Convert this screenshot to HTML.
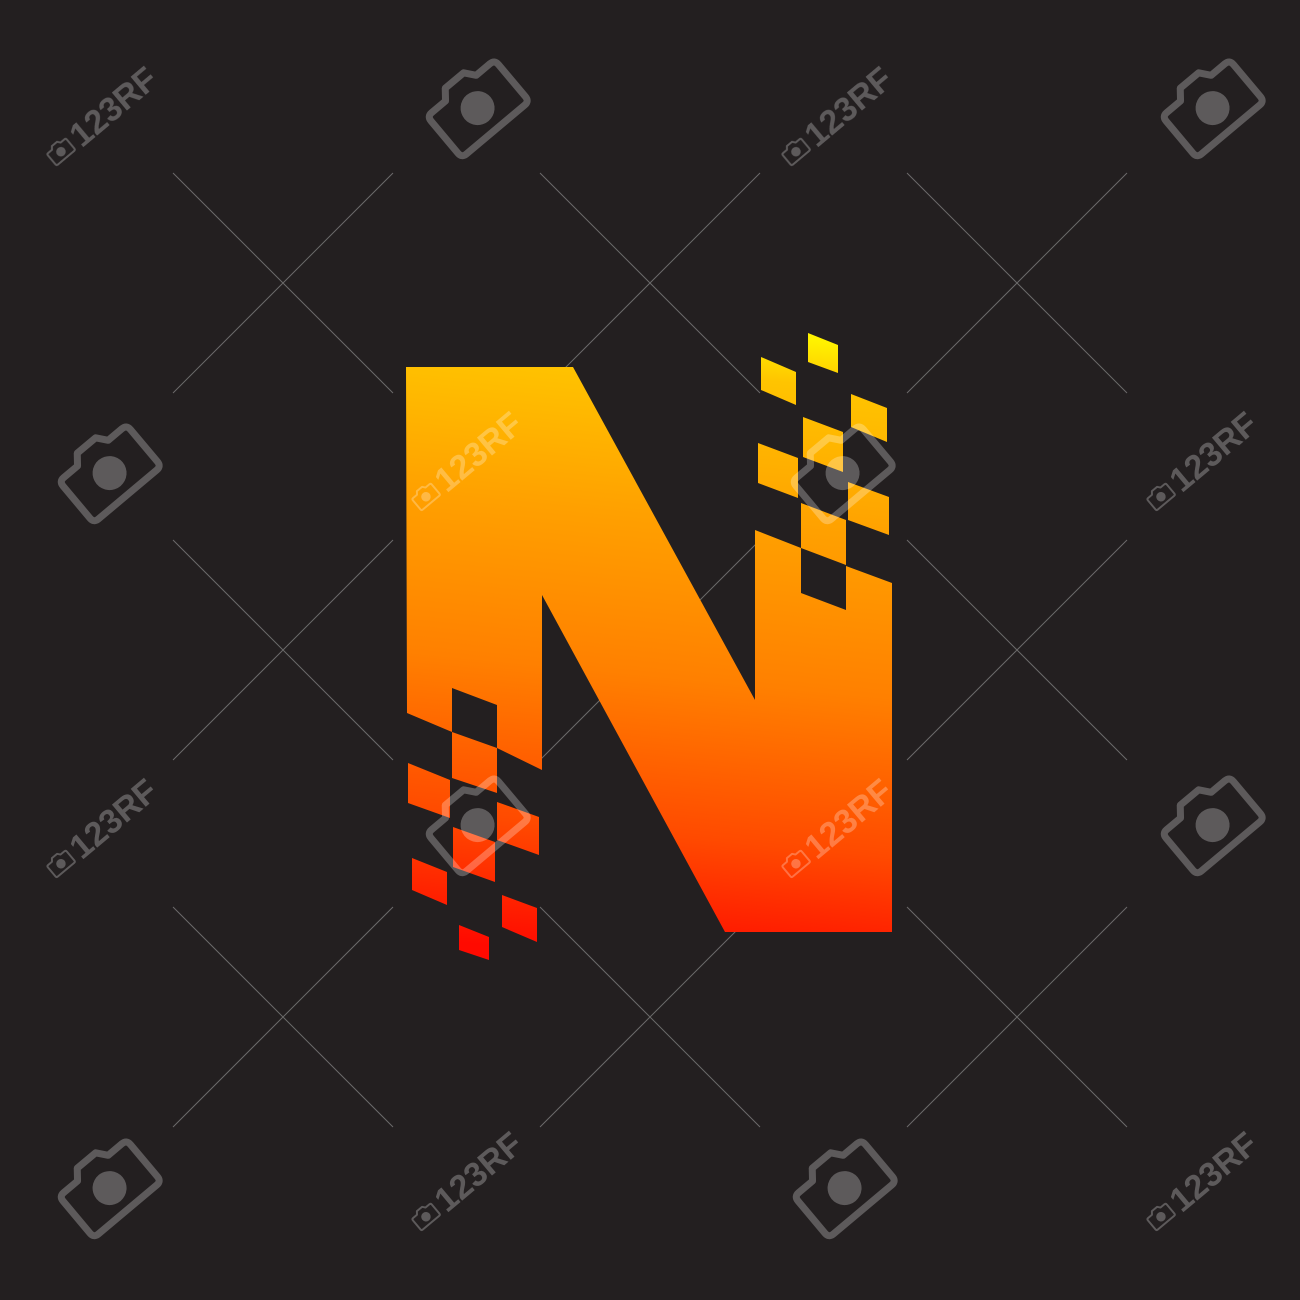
<!DOCTYPE html>
<html><head><meta charset="utf-8"><style>
html,body{margin:0;padding:0;background:#231f20;}
svg{display:block;}
</style></head><body>
<svg width="1300" height="1300" viewBox="0 0 1300 1300">
<defs>
<linearGradient id="g" gradientUnits="userSpaceOnUse" x1="700" y1="330" x2="640" y2="960">
<stop offset="0" stop-color="#fff200"/>
<stop offset="0.07" stop-color="#ffc400"/>
<stop offset="0.3" stop-color="#ffa000"/>
<stop offset="0.55" stop-color="#ff8000"/>
<stop offset="0.8" stop-color="#ff4a00"/>
<stop offset="1" stop-color="#ff0a00"/>
</linearGradient>
<symbol id="cam" viewBox="-50 -50 100 100">
<path d="M-38,-22 L-20,-22 L-12,-32 L12,-32 L20,-22 L38,-22 Q44,-22 44,-16 L44,26 Q44,32 38,32 L-38,32 Q-44,32 -44,26 L-44,-16 Q-44,-22 -38,-22 Z" fill="none" stroke="#fff" stroke-width="7" stroke-linejoin="round"/>
<circle cx="0" cy="4" r="17" fill="#fff"/>
</symbol>
</defs>
<rect width="1300" height="1300" fill="#231f20"/>
<g stroke="#8a8a8a" stroke-width="1" opacity="0.7">
<path d="M173,173 L393,393 M393,173 L173,393"/>
<path d="M540,173 L760,393 M760,173 L540,393"/>
<path d="M907,173 L1127,393 M1127,173 L907,393"/>
<path d="M173,540 L393,760 M393,540 L173,760"/>
<path d="M540,540 L760,760 M760,540 L540,760"/>
<path d="M907,540 L1127,760 M1127,540 L907,760"/>
<path d="M173,907 L393,1127 M393,907 L173,1127"/>
<path d="M540,907 L760,1127 M760,907 L540,1127"/>
<path d="M907,907 L1127,1127 M1127,907 L907,1127"/>
</g>
<g>
<path fill="url(#g)" d="M406,367 L573,367 L755,700 L755,530 L801,548 L801,593 L846,610 L846,566 L892,583 L892,932 L725,932 L542,595 L542,770 L497,748 L497,705 L452,688 L452,732 L407,713 Z"/>
<g fill="url(#g)">
<path d="M808,333 L838,345 L838,373 L808,362 Z"/>
<path d="M761,357 L796,372 L796,405 L761,390 Z"/>
<path d="M851,394 L887,408 L887,442 L851,427 Z"/>
<path d="M803,417 L843,432 L843,472 L803,457 Z"/>
<path d="M758,443 L798,458 L798,498 L758,483 Z"/>
<path d="M848,482 L889,497 L889,535 L848,520 Z"/>
<path d="M801,503 L846,520 L846,565 L801,548 Z"/>
</g>
<g fill="url(#g)">
<path d="M452,732 L497,748 L497,793 L452,778 Z"/>
<path d="M408,763 L450,780 L450,818 L408,803 Z"/>
<path d="M497,802 L539,817 L539,855 L497,840 Z"/>
<path d="M453,827 L495,842 L495,882 L453,867 Z"/>
<path d="M412,858 L447,872 L447,905 L412,890 Z"/>
<path d="M502,895 L537,908 L537,942 L502,927 Z"/>
<path d="M459,925 L489,937 L489,960 L459,950 Z"/>
</g>
</g>
<g fill="#fff" opacity="0.27" font-family="Liberation Sans, sans-serif" font-weight="bold" font-size="34">
<g transform="translate(97,120) rotate(-40)"><use href="#cam" x="-62" y="-14" width="28" height="28"/><text x="-30" y="12">123RF</text></g>
<g transform="translate(832,120) rotate(-40)"><use href="#cam" x="-62" y="-14" width="28" height="28"/><text x="-30" y="12">123RF</text></g>
<g transform="translate(462,465) rotate(-40)"><use href="#cam" x="-62" y="-14" width="28" height="28"/><text x="-30" y="12">123RF</text></g>
<g transform="translate(1197,465) rotate(-40)"><use href="#cam" x="-62" y="-14" width="28" height="28"/><text x="-30" y="12">123RF</text></g>
<g transform="translate(97,832) rotate(-40)"><use href="#cam" x="-62" y="-14" width="28" height="28"/><text x="-30" y="12">123RF</text></g>
<g transform="translate(832,832) rotate(-40)"><use href="#cam" x="-62" y="-14" width="28" height="28"/><text x="-30" y="12">123RF</text></g>
<g transform="translate(462,1185) rotate(-40)"><use href="#cam" x="-62" y="-14" width="28" height="28"/><text x="-30" y="12">123RF</text></g>
<g transform="translate(1197,1185) rotate(-40)"><use href="#cam" x="-62" y="-14" width="28" height="28"/><text x="-30" y="12">123RF</text></g>
<g>
<use href="#cam" x="425" y="55" width="100" height="100" transform="rotate(-40 475 105)"/>
<use href="#cam" x="1160" y="55" width="100" height="100" transform="rotate(-40 1210 105)"/>
<use href="#cam" x="57" y="420" width="100" height="100" transform="rotate(-40 107 470)"/>
<use href="#cam" x="790" y="420" width="100" height="100" transform="rotate(-40 840 470)"/>
<use href="#cam" x="425" y="772" width="100" height="100" transform="rotate(-40 475 822)"/>
<use href="#cam" x="1160" y="772" width="100" height="100" transform="rotate(-40 1210 822)"/>
<use href="#cam" x="57" y="1135" width="100" height="100" transform="rotate(-40 107 1185)"/>
<use href="#cam" x="792" y="1135" width="100" height="100" transform="rotate(-40 842 1185)"/>
</g>
</g>
</svg>
</body></html>
